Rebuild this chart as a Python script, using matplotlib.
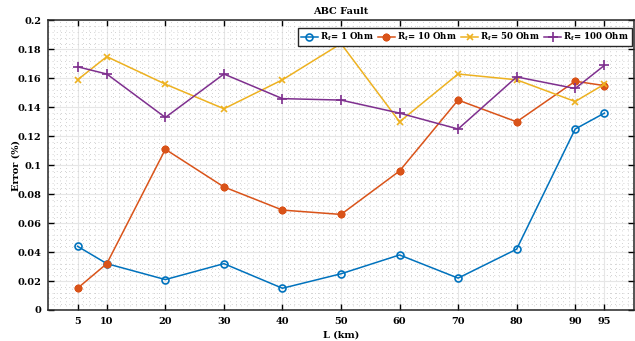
import matplotlib
matplotlib.use("Agg")
import matplotlib.pyplot as plt
from matplotlib.ticker import MultipleLocator, FuncFormatter

L_km = [5, 10, 20, 30, 40, 50, 60, 70, 80, 90, 95]
rf1 = [0.044, 0.032, 0.021, 0.032, 0.015, 0.025, 0.038, 0.022, 0.042, 0.125, 0.136]
rf10 = [0.015, 0.032, 0.111, 0.085, 0.069, 0.066, 0.096, 0.145, 0.130, 0.158, 0.155]
rf50 = [0.159, 0.175, 0.156, 0.139, 0.159, 0.184, 0.130, 0.163, 0.159, 0.144, 0.156]
rf100 = [0.168, 0.163, 0.133, 0.163, 0.146, 0.145, 0.136, 0.125, 0.161, 0.153, 0.169]
labels = [r"R$_f$= 1 Ohm", r"R$_f$= 10 Ohm", r"R$_f$= 50 Ohm", r"R$_f$= 100 Ohm"]
yticks = [0, 0.02, 0.04, 0.06, 0.08, 0.1, 0.12, 0.14, 0.16, 0.18, 0.2]

plt.rcParams['font.family'] = ['DejaVu Serif']
plt.rcParams['font.weight'] = 'bold'
plt.rcParams['mathtext.default'] = 'bf'
plt.rcParams['mathtext.fontset'] = 'dejavuserif'

fig = plt.figure(figsize=(6.35, 3.41), dpi=100)
ax = fig.add_axes([0.076, 0.091, 0.922, 0.849])

ax.plot(L_km, rf1, color='#0072BD', marker='o', mfc='none', ms=5, mew=1.2, lw=1.1, label=labels[0])
ax.plot(L_km, rf10, color='#D95319', marker=(8, 2, 0), ms=5.5, mew=1.7, lw=1.1, label=labels[1])
ax.plot(L_km, rf50, color='#EDB120', marker='x', ms=4.5, mew=1.2, lw=1.1, label=labels[2])
ax.plot(L_km, rf100, color='#7E2F8E', marker='+', ms=6.5, mew=1.2, lw=1.1, label=labels[3])

ax.set_xlim(0, 100)
ax.set_ylim(0, 0.2)
ax.set_xticks(L_km)
ax.set_yticks(yticks)
ax.yaxis.set_major_formatter(FuncFormatter(lambda v, p: f"{v:g}"))
ax.xaxis.set_minor_locator(MultipleLocator(1))
ax.yaxis.set_minor_locator(MultipleLocator(0.004))
ax.tick_params(which='major', direction='in', top=True, right=True, length=4, width=1, labelsize=7, pad=5)
ax.tick_params(which='minor', direction='in', top=False, right=False, length=0)
for lab in ax.get_xticklabels() + ax.get_yticklabels():
    lab.set_fontweight('bold')

ax.grid(which='major', color='#e6e6e6', lw=0.8, ls='-')
ax.grid(which='minor', color='#c4c4c4', lw=0.6, ls=(0, (1, 4)))
ax.set_axisbelow(True)
for s in ax.spines.values():
    s.set_linewidth(1.1)
    s.set_color('#262626')

ax.set_xlabel('L (km)', fontsize=7, fontweight='bold', labelpad=3)
ax.set_ylabel('Error (%)', fontsize=7, fontweight='bold')
ax.yaxis.set_label_coords(-0.047, 0.5)
ax.set_title('ABC Fault', fontsize=7, fontweight='bold', pad=5)

leg = ax.legend(loc='upper right', bbox_to_anchor=(0.997, 0.975), borderaxespad=0,
                ncol=4, fontsize=6.2, frameon=True, fancybox=False,
                edgecolor='#262626', framealpha=1, handlelength=2.0, handletextpad=0.2,
                columnspacing=0.5, borderpad=0.35)
leg.get_frame().set_linewidth(1.0)
for t in leg.get_texts():
    t.set_fontweight('bold')

fig.savefig('out.png', dpi=100)
